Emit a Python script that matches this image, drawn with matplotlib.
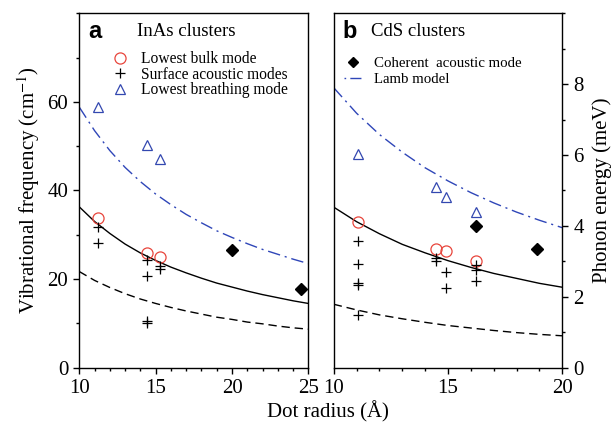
import matplotlib
matplotlib.use("Agg")
import matplotlib.pyplot as plt
from matplotlib.lines import Line2D
from matplotlib.ticker import MultipleLocator

plt.rcParams['font.family'] = ['Liberation Serif', 'DejaVu Serif']
plt.rcParams['mathtext.fontset'] = 'stix'

# ---------------- InAs (panel a), frequency in cm^-1 ----------------
inas_bulk_r = [11.25, 14.43, 15.28]
inas_bulk_f = [33.7, 25.8, 24.9]
inas_surf_r = [11.25, 11.25, 14.43, 14.43, 14.43, 14.43, 15.28, 15.28]
inas_surf_f = [31.7, 28.1, 24.3, 20.8, 10.6, 10.2, 23.0, 22.2]
inas_breath_r = [11.25, 14.43, 15.28]
inas_breath_f = [58.8, 50.3, 47.2]
inas_coh_r = [19.98, 24.52]
inas_coh_f = [26.6, 17.8]

inas_model_r = [10, 11, 12, 13, 14, 15, 16, 17, 18, 19, 20, 21, 22, 23, 24, 25]
inas_solid = [36.3, 33.0, 30.3, 27.9, 25.9, 24.2, 22.7, 21.4, 20.2, 19.1, 18.2, 17.3, 16.5, 15.8, 15.1, 14.5]
inas_dashed = [21.7, 19.7, 18.1, 16.7, 15.5, 14.5, 13.6, 12.8, 12.1, 11.4, 10.9, 10.3, 9.9, 9.4, 9.0, 8.7]
inas_lamb = [58.8, 53.5, 49.0, 45.2, 42.0, 39.2, 36.8, 34.6, 32.7, 30.9, 29.4, 28.0, 26.7, 25.6, 24.5, 23.5]

# ---------------- CdS (panel b), energy in meV ----------------
cds_bulk_r = [11.08, 14.48, 14.90, 16.21]
cds_bulk_e = [4.11, 3.34, 3.28, 3.00]
cds_surf_r = [11.08, 11.08, 11.08, 11.08, 11.08, 14.48, 14.48, 14.90, 14.90, 16.21, 16.21, 16.21]
cds_surf_e = [3.57, 2.92, 2.38, 2.33, 1.50, 3.10, 3.02, 2.69, 2.26, 2.89, 2.75, 2.45]
cds_breath_r = [11.08, 14.48, 14.90, 16.21]
cds_breath_e = [6.02, 5.11, 4.83, 4.40]
cds_coh_r = [16.21, 18.88]
cds_coh_e = [4.00, 3.36]

cds_model_r = [10, 11, 12, 13, 14, 15, 16, 17, 18, 19, 20]
cds_solid = [4.53, 4.12, 3.78, 3.48, 3.24, 3.02, 2.83, 2.66, 2.52, 2.38, 2.27]
cds_dashed = [1.79, 1.63, 1.49, 1.38, 1.28, 1.19, 1.12, 1.05, 0.99, 0.94, 0.90]
cds_lamb = [7.90, 7.18, 6.58, 6.08, 5.64, 5.27, 4.94, 4.65, 4.39, 4.16, 3.95]

RED = '#e8453c'
BLUE = '#3348b0'
LAMB = '#2f46b8'
DASHDOT = (0, (9, 3.5, 1.5, 3.5))
DASHED = (0, (6, 3.5))

fig = plt.figure(figsize=(6.13, 4.30), dpi=100)
axa = fig.add_axes([0.1294, 0.1449, 0.3736, 0.8242])
axb = fig.add_axes([0.5444, 0.1449, 0.3729, 0.8242])

ms_c, ms_p, ms_t, ms_d = 8, 7.5, 7.5, 6.5


def style(ax):
    for s in ax.spines.values():
        s.set_linewidth(1.0)
    ax.tick_params(which='both', direction='out', labelsize=15, width=1.0)
    ax.tick_params(which='major', length=4.5)
    ax.tick_params(which='minor', length=2.5)
    ax.xaxis.set_minor_locator(MultipleLocator(1))


# ---- panel a ----
axa.plot(inas_model_r, inas_solid, color='black', lw=1.0)
axa.plot(inas_model_r, inas_dashed, color='black', lw=1.0, ls=DASHED)
axa.plot(inas_model_r, inas_lamb, color=LAMB, lw=1.0, ls=DASHDOT)
axa.plot(inas_bulk_r, inas_bulk_f, 'o', mfc='none', mec=RED, ms=ms_c, mew=0.9, ls='none')
axa.plot(inas_surf_r, inas_surf_f, '+', color='black', ms=ms_p, mew=0.9, ls='none')
axa.plot(inas_breath_r, inas_breath_f, '^', mfc='none', mec=BLUE, ms=ms_t, mew=0.9, ls='none')
axa.plot(inas_coh_r, inas_coh_f, 'D', color='black', ms=ms_d, ls='none')
axa.set_xlim(10, 25)
axa.set_ylim(0, 80)
axa.set_xticks([10, 15, 20, 25])
axa.set_yticks([0, 20, 40, 60])
axa.yaxis.set_minor_locator(MultipleLocator(10))
axa.tick_params(which='both', top=False, right=False)
style(axa)
axa.set_ylabel('Vibrational frequency (cm$^{-1}$)', fontsize=15, labelpad=4)

axa.text(0.04, 0.95, 'a', transform=axa.transAxes, fontsize=17, fontweight='bold',
         family=['Liberation Sans', 'DejaVu Sans'], va='center', ha='left')
axa.text(0.25, 0.95, 'InAs clusters', transform=axa.transAxes, fontsize=13.5,
         va='center', ha='left')
handles_a = [
    Line2D([], [], marker='o', mfc='none', mec=RED, ms=ms_c, mew=0.9, ls='none'),
    Line2D([], [], marker='+', color='black', ms=ms_p, mew=0.9, ls='none'),
    Line2D([], [], marker='^', mfc='none', mec=BLUE, ms=ms_t, mew=0.9, ls='none'),
]
axa.legend(handles_a, ['Lowest bulk mode', 'Surface acoustic modes', 'Lowest breathing mode'],
           loc='upper left', bbox_to_anchor=(0.138, 0.897), frameon=False, fontsize=11.2,
           handlelength=1.0, handletextpad=0.85, labelspacing=-0.03, borderpad=0.1,
           borderaxespad=0.0)

# ---- panel b ----
axb.plot(cds_model_r, cds_solid, color='black', lw=1.0)
axb.plot(cds_model_r, cds_dashed, color='black', lw=1.0, ls=DASHED)
axb.plot(cds_model_r, cds_lamb, color=LAMB, lw=1.0, ls=DASHDOT)
axb.plot(cds_bulk_r, cds_bulk_e, 'o', mfc='none', mec=RED, ms=ms_c, mew=0.9, ls='none')
axb.plot(cds_surf_r, cds_surf_e, '+', color='black', ms=ms_p, mew=0.9, ls='none')
axb.plot(cds_breath_r, cds_breath_e, '^', mfc='none', mec=BLUE, ms=ms_t, mew=0.9, ls='none')
axb.plot(cds_coh_r, cds_coh_e, 'D', color='black', ms=ms_d, ls='none')
axb.set_xlim(10, 20)
axb.set_ylim(0, 10)
axb.set_xticks([10, 15, 20])
axb.set_yticks([0, 2, 4, 6, 8])
axb.yaxis.set_minor_locator(MultipleLocator(1))
axb.yaxis.tick_right()
axb.yaxis.set_label_position('right')
axb.tick_params(which='both', top=False, left=False)
style(axb)
axb.set_ylabel('Phonon energy (meV)', fontsize=15, labelpad=6)

axb.text(0.04, 0.95, 'b', transform=axb.transAxes, fontsize=17, fontweight='bold',
         family=['Liberation Sans', 'DejaVu Sans'], va='center', ha='left')
axb.text(0.165, 0.95, 'CdS clusters', transform=axb.transAxes, fontsize=13.5,
         va='center', ha='left')
handles_b = [
    Line2D([], [], marker='D', color='black', ms=ms_d - 1, ls='none'),
    Line2D([], [], color=LAMB, lw=1.0, ls=(0, (1.2, 3, 8, 3))),
]
axb.legend(handles_b, ['Coherent  acoustic mode', 'Lamb model'],
           loc='upper left', bbox_to_anchor=(0.0385, 0.882), frameon=False, fontsize=10.7,
           handlelength=1.2, handletextpad=0.8, labelspacing=0.2, borderpad=0.1,
           borderaxespad=0.0)

fig.text(0.5353, 0.018, 'Dot radius (Å)', fontsize=15, ha='center', va='bottom')

fig.savefig('out.png', dpi=100)
